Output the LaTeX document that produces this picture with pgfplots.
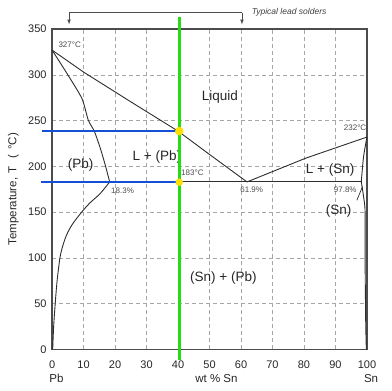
\documentclass[border=0pt]{standalone}
\usepackage{fontspec}
\setmainfont{Liberation Sans}
\usepackage{pgfplots}
\pgfplotsset{compat=1.18}
\definecolor{gline}{RGB}{40,220,20}
\definecolor{bline}{RGB}{20,80,215}
\definecolor{ydot}{RGB}{255,222,0}
\definecolor{curve}{RGB}{45,45,45}
\begin{document}
\begin{tikzpicture}
\useasboundingbox (-52pt,-41pt) rectangle (339.5pt,349pt);
\begin{axis}[
  at={(0,0)}, anchor=south west,
  scale only axis, width=314.5pt, height=320pt,
  xmin=0, xmax=100, ymin=0, ymax=350,
  xtick={0,10,...,100}, ytick={0,50,...,350},
  grid=major,
  major grid style={gray!70, line width=0.6pt, dash pattern=on 4pt off 3pt},
  axis line style={line width=1.6pt, black!70},
  tick style={draw=none},
  ticklabel style={font=\fontsize{11}{13}\selectfont, text=black!85},
  xticklabel style={yshift=-8pt},
  yticklabel style={xshift=-2pt},
  /pgf/number format/assume math mode=true,
  clip=false,
]
% liquidus left
\addplot[curve, line width=0.9pt] coordinates {(0,327) (10,303) (25,270.5) (40,238.5) (50,213) (61.9,183)};
% solidus left
\addplot[curve, line width=0.9pt, smooth, tension=0.4] coordinates {(0,327) (5,300) (9.5,274) (11.5,250.5) (13.4,238.5) (15.3,220) (17,200) (18.3,183)};
% solvus left
\addplot[curve, line width=0.9pt, smooth] coordinates {(18.3,183) (15.2,170) (12,160) (9.4,150) (6.5,137) (4.6,125) (3.3,112) (2.5,100) (1.6,75) (1,50) (0.5,25) (0.2,0)};
% eutectic line
\addplot[curve, line width=0.9pt] coordinates {(18.3,183) (98.2,183)};
% liquidus right
\addplot[curve, line width=0.9pt] coordinates {(61.9,183) (80.6,209) (100,232)};
% solidus right
\addplot[curve, line width=0.9pt, smooth] coordinates {(100,232) (98.9,210) (98.2,183)};
% solvus right
\addplot[curve, line width=0.9pt, smooth] coordinates {(98.2,183) (99,165) (99.4,150) (99.4,100) (99.6,30) (99.8,0)};
% leader
\addplot[curve, line width=0.7pt] coordinates {(98.6,178) (96.8,163)};
% blue lines
\addplot[bline, line width=2.6pt] coordinates {(-3.1,238.5) (40.4,238.5)};
\addplot[bline, line width=2.6pt] coordinates {(-3.6,182.7) (40.4,182.7)};
% labels
\node[font=\fontsize{13.5}{15}\selectfont, text=black!85] at (axis cs:53.3,276) {Liquid};
\node[font=\fontsize{13.5}{15}\selectfont, text=black!85] at (axis cs:33.3,210.4) {L + (Pb)};
\node[font=\fontsize{13.5}{15}\selectfont, text=black!85] at (axis cs:9.1,201.3) {(Pb)};
\node[font=\fontsize{13.5}{15}\selectfont, text=black!85] at (axis cs:88.3,195.8) {L + (Sn)};
\node[font=\fontsize{13.5}{15}\selectfont, text=black!85] at (axis cs:91,151.3) {(Sn)};
\node[font=\fontsize{13.5}{15}\selectfont, text=black!85] at (axis cs:54.4,78.4) {(Sn) + (Pb)};
\node[font=\fontsize{8}{9}\selectfont, text=black!70] at (axis cs:5.6,333) {327°C};
\node[font=\fontsize{8}{9}\selectfont, text=black!70, anchor=east, inner sep=0.5pt] at (axis cs:100,242.5) {232°C};
\node[font=\fontsize{8}{9}\selectfont, text=black!70, anchor=west, inner sep=0.5pt] at (axis cs:40.8,193) {183°C};
\node[font=\fontsize{8}{9}\selectfont, text=black!70] at (axis cs:22.4,173) {18.3\%};
\node[font=\fontsize{8}{9}\selectfont, text=black!70] at (axis cs:63.4,174) {61.9\%};
\node[font=\fontsize{8}{9}\selectfont, text=black!70] at (axis cs:93.1,174) {97.8\%};
% top bracket
\draw[black!70, line width=0.7pt, -latex] (axis cs:5.4,368) -- (axis cs:5.4,355);
\draw[black!70, line width=0.7pt] (axis cs:5.4,368) -- (axis cs:60.3,368);
\draw[black!70, line width=0.7pt, -latex] (axis cs:60.3,368) -- (axis cs:60.3,355);
\node[font=\itshape\fontsize{8.5}{10}\selectfont, text=black!75, anchor=west] at (axis cs:62.3,368) {Typical lead solders};
% green line
\addplot[gline, line width=2.7pt] coordinates {(40.4,-12) (40.4,363)};
% yellow dots
\addplot[only marks, mark=*, mark size=4pt, mark options={fill=ydot, draw=ydot}] coordinates {(40.4,238.5)};
\addplot[only marks, mark=*, mark size=3.5pt, mark options={fill=ydot, draw=ydot}] coordinates {(40.4,182.7)};
% axis bottom labels
\node[font=\fontsize{11.5}{13}\selectfont, text=black!85] at ([yshift=-29pt]axis cs:1.4,0) {Pb};
\node[font=\fontsize{11.5}{13}\selectfont, text=black!85] at ([yshift=-29pt]axis cs:52.2,0) {wt \% Sn};
\node[font=\fontsize{11.5}{13}\selectfont, text=black!85] at ([yshift=-29pt]axis cs:101.3,0) {Sn};
\node[font=\fontsize{11.5}{13}\selectfont, text=black!85, rotate=90] at ([xshift=-38.5pt]axis cs:0,175) {Temperature,\hspace{4pt}T\hspace{8pt}(\hspace{5pt}°C)};
\end{axis}
\end{tikzpicture}
\end{document}
